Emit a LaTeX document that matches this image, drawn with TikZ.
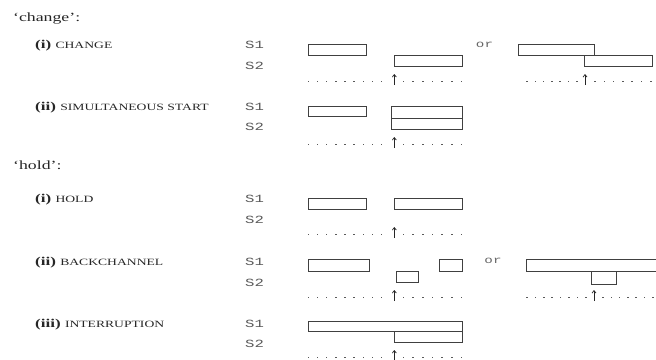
\documentclass[tikz,border=0pt]{standalone}
\usepackage{fontspec}
\setmainfont{Liberation Serif}[FakeStretch=1.42]
\setmonofont{Liberation Mono}[FakeStretch=1.42]
\usetikzlibrary{arrows.meta}
\tikzset{
  head/.style={anchor=base west, inner sep=0pt, font=\fontsize{12.5}{14}\selectfont, text=black!85},
  case/.style={anchor=base west, inner sep=0pt, font=\fontsize{12}{14}\selectfont, text=black!85},
  spk/.style={anchor=base west, inner sep=0pt, font=\ttfamily\fontsize{11}{13}\selectfont, text=black!65},
  orlab/.style={inner sep=0pt, font=\ttfamily\fontsize{10}{12}\selectfont, text=black!60},
  turn/.style={draw=black!75, line width=0.9pt},
  dotmark/.style={fill=black!65},
  uparrow/.style={draw=black!85, line width=0.7pt, -{Straight Barb[length=2.5pt,width=4pt]}}
}
\newcommand{\capsname}[1]{{\fontsize{9.6}{12}\selectfont #1}}
% dotted time line: y, start x, n dots, spacing, arrow x, start after, n after, spacing after, name
\newcommand{\timeline}[9]{%
  \foreach \i in {1,...,#3} {\fill[dotmark] ({#2+(\i-1)*#4-0.8},{#1-0.5}) rectangle ++(1.6,1);}
  \coordinate (#9b) at (#5,{#1+4});
  \coordinate (#9t) at (#5,{#1-7});
  \draw[uparrow] (#9b) -- (#9t);
  \foreach \i in {1,...,#7} {\fill[dotmark] ({#6+(\i-1)*#8-0.8},{#1-0.5}) rectangle ++(1.6,1);}
}
\begin{document}
\begin{tikzpicture}[x=1pt,y=-1pt]
\useasboundingbox (0,0) rectangle (656,359);

% headings
\node[head] (hc) at (13,21) {`change':};
\node[head] (hh) at (13,169) {`hold':};

% case labels
\node[case] (c1) at (35,48) {\textbf{(i)} \capsname{CHANGE}};
\node[case] (c2) at (35,110) {\textbf{(ii)} \capsname{SIMULTANEOUS START}};
\node[case] (h1) at (35,202) {\textbf{(i)} \capsname{HOLD}};
\node[case] (h2) at (35,265) {\textbf{(ii)} \capsname{BACKCHANNEL}};
\node[case] (h3) at (35,327) {\textbf{(iii)} \capsname{INTERRUPTION}};

% speakers
\node[spk] (c1a) at (245,48) {S1};
\node[spk] (c1b) at (245,69) {S2};
\node[spk] (c2a) at (245,110) {S1};
\node[spk] (c2b) at (245,130) {S2};
\node[spk] (h1a) at (245,202) {S1};
\node[spk] (h1b) at (245,223) {S2};
\node[spk] (h2a) at (245,265) {S1};
\node[spk] (h2b) at (245,286) {S2};
\node[spk] (h3a) at (245,327) {S1};
\node[spk] (h3b) at (245,347) {S2};

% or labels
\node[orlab] (or1) at (484.5,45) {or};
\node[orlab] (or2) at (493,261) {or};

% change (i)
\draw[turn] (308,44) rectangle (366,55);
\draw[turn] (394,55) rectangle (462,66);
\draw[turn] (518,44) rectangle (594,55);
\draw[turn] (584,55) rectangle (652,66);
\timeline{81}{308.3}{9}{9.17}{394.3}{403.3}{7}{9.7}{a1}
\timeline{81}{527}{7}{8.3}{585}{595}{7}{9.3}{a2}

% change (ii)
\draw[turn] (308,106) rectangle (366,116);
\draw[turn] (391,106) rectangle (462,118);
\draw[turn] (391,118) rectangle (462,129);
\timeline{144}{308.3}{9}{9.17}{394.3}{403.3}{7}{9.7}{a3}

% hold (i)
\draw[turn] (308,198) rectangle (366,209);
\draw[turn] (394,198) rectangle (462,209);
\timeline{234}{308.3}{9}{9.17}{394.3}{403.3}{7}{9.7}{a4}

% backchannel
\draw[turn] (308,259) rectangle (369,271);
\draw[turn] (396,271) rectangle (418,282);
\draw[turn] (439,259) rectangle (462,271);
\timeline{297}{308.3}{9}{9.17}{394.3}{403.3}{7}{9.7}{a5}
\draw[turn] (657,259) -- (526,259) -- (526,271) -- (657,271);
\draw[turn] (591,271) -- (591,284) -- (616,284) -- (616,271);
\timeline{297}{527}{8}{8.4}{594}{603}{7}{8.3}{a6}

% interruption
\draw[turn] (308,321) rectangle (462,331);
\draw[turn] (394,331) rectangle (462,342);
\timeline{357}{308.3}{9}{9.17}{394.3}{403.3}{7}{9.7}{a7}
\end{tikzpicture}
\end{document}
